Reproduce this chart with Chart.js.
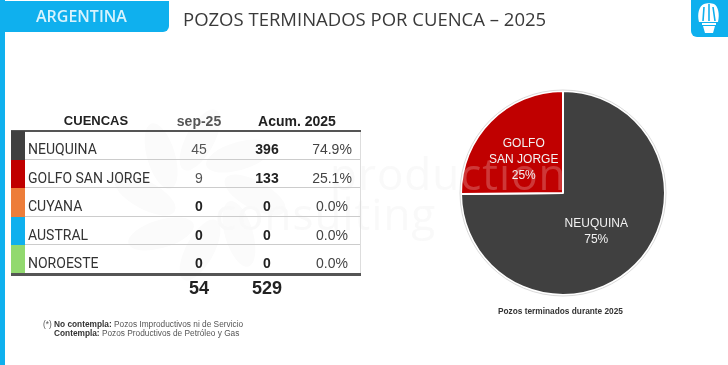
<!DOCTYPE html>
<html>
<head>
<meta charset="utf-8">
<script src="https://cdn.jsdelivr.net/npm/chart.js@4"></script>
<style>
  html, body { margin: 0; padding: 0; background: #fff; }
  #page { position: relative; width: 728px; height: 365px; overflow: hidden; font-family: "Liberation Sans", sans-serif; }
  .abs { position: absolute; white-space: nowrap; }
  #pieBox { left: 0; top: 0; width: 728px; height: 365px; }
  #sideBar { left: 0; top: 0; width: 5px; height: 365px; background: #0fb0ee; }
  #tag { left: 0; top: 1px; width: 169px; height: 31px; background: #0fb0ee; border-bottom-right-radius: 6px; }
  #tagText { left: 36px; top: 5px; font: 600 16px "Open Sans", sans-serif; color: #d8f3fd; }
  #title { left: 183px; top: 6px; font: 400 18.5px "Open Sans", sans-serif; color: #3a3a3a; }
  #logo { left: 691px; top: 0; width: 37px; height: 37px; background: #0fb0ee; border-bottom-left-radius: 6px; }
  .head { font-weight: 700; font-size: 14px; color: #222; transform: translateX(-50%); }
  .rowName { font: 400 14px Roboto, sans-serif; color: #333; }
  .num { font-size: 14px; color: #222; transform: translateX(-50%); }
  .total { font-size: 18px; font-weight: 700; color: #222; transform: translateX(-50%); }
  .note { font-size: 8.3px; color: #555; }
  .note b { color: #333; }
  #caption { left: 498px; top: 306px; font-size: 8.3px; font-weight: 700; color: #333; }
</style>
</head>
<body>
<div id="page">
  <div class="abs" id="pieBox"><canvas id="pie"></canvas></div>
  <div class="abs" id="sideBar"></div>
  <div class="abs" id="tag"></div>
  <div class="abs" id="tagText">ARGENTINA</div>
  <div class="abs" id="title">POZOS TERMINADOS POR CUENCA – 2025</div>
  <div class="abs" id="logo">
    <svg width="37" height="37" viewBox="0 0 37 37">
      <path d="M8 22 C6 14 8 6 13 4 C15 3 21 3 23 4 C27 6 29 14 27 22 Z" fill="#fff"/>
      <path d="M13 7 L12 21 M18 4 L18 21 M22 7 L24 21" stroke="#0fb0ee" stroke-width="1.6" fill="none"/>
      <rect x="11" y="23" width="14" height="2" fill="#fff"/>
      <path d="M12 26 L24 26 L22 33 L14 33 Z" fill="#fff"/>
    </svg>
  </div>
  <div id="table"></div>
  <div class="abs note" style="left:43px;top:319px;">(*) <b>No contempla:</b> Pozos Improductivos ni de Servicio</div>
  <div class="abs note" style="left:54px;top:328px;"><b>Contempla:</b> Pozos Productivos de Petróleo y Gas</div>
  <div class="abs" id="caption">Pozos terminados durante 2025</div>
</div>
<script>
const cuencas = ["NEUQUINA", "GOLFO SAN JORGE", "CUYANA", "AUSTRAL", "NOROESTE"];
const sep25 = [45, 9, 0, 0, 0];
const acum2025 = [396, 133, 0, 0, 0];
const shares = ["74.9%", "25.1%", "0.0%", "0.0%", "0.0%"];
const totals = [54, 529];
const colors = ["#404040", "#c00000", "#ed7d3a", "#0fb0ee", "#92d96f"];
const pieLabels = [["NEUQUINA", "75%"], ["GOLFO", "SAN JORGE", "25%"]];

function addDiv(parent, cls, left, top, text, style) {
  const el = document.createElement("div");
  el.className = "abs " + cls;
  el.style.left = left + "px";
  el.style.top = top + "px";
  if (style) Object.assign(el.style, style);
  el.textContent = text;
  parent.appendChild(el);
  return el;
}

function renderTable() {
  const t = document.getElementById("table");
  addDiv(t, "head", 96, 113, "CUENCAS", { fontSize: "13px" });
  addDiv(t, "head", 199, 113, "sep-25", { color: "#555" });
  addDiv(t, "head", 297, 113, "Acum. 2025");
  addDiv(t, "", 11, 130, "", { width: "350px", height: "2px", background: "#555" });
  const rowTop = 131, rowH = 28.6;
  cuencas.forEach((name, i) => {
    const y = rowTop + i * rowH;
    addDiv(t, "", 11, y, "", { width: "14px", height: rowH + "px", background: colors[i] });
    if (i > 0) addDiv(t, "", 25, y - 1, "", { width: "336px", height: "1px", background: "#ccc" });
    addDiv(t, "rowName", 28, y + 10, name);
    const zero = sep25[i] === 0;
    addDiv(t, "num", 199, y + 10, sep25[i], { color: zero ? "#222" : "#555", fontWeight: zero ? 700 : 400 });
    addDiv(t, "num", 267, y + 10, acum2025[i], { fontWeight: 700 });
    addDiv(t, "num", 332, y + 10, shares[i], { color: "#444" });
  });
  addDiv(t, "", 11, 273, "", { width: "350px", height: "3px", background: "#555" });
  addDiv(t, "", 360, 132, "", { width: "1px", height: "141px", background: "#ddd" });
  addDiv(t, "total", 199, 278, totals[0]);
  addDiv(t, "total", 267, 278, totals[1]);
}

function drawWatermark(ctx, color) {
  ctx.save();
  ctx.fillStyle = color;
  ctx.font = '44px "Open Sans"';
  ctx.letterSpacing = "1px";
  ctx.textAlign = "left";
  ctx.fillText("production", 330, 190);
  ctx.fillText("consulting", 215, 230);
  ctx.restore();
}

// faint company mark behind the table
const watermark = {
  id: "watermark",
  beforeDatasetsDraw(chart) {
    const ctx = chart.ctx;
    ctx.save();
    ctx.fillStyle = "#fbfbfb";
    ctx.translate(200, 195);
    for (let i = 0; i < 8; i++) {
      ctx.rotate(Math.PI / 4);
      ctx.beginPath();
      ctx.ellipse(55, 0, 34, 14, 0.5, 0, Math.PI * 2);
      ctx.fill();
    }
    ctx.restore();
    drawWatermark(ctx, "#f8f8f8");
  },
  afterDatasetsDraw(chart) {
    const ctx = chart.ctx;
    drawWatermark(ctx, "rgba(255,255,255,0.22)");
    // pale outer ring of the pie
    const arc = chart.getDatasetMeta(0).data[0];
    ctx.save();
    ctx.strokeStyle = "#d9d9d9";
    ctx.lineWidth = 1;
    ctx.beginPath();
    ctx.arc(arc.x, arc.y, arc.outerRadius + 1, 0, Math.PI * 2);
    ctx.stroke();
    ctx.restore();
    // pie text sits near the middle of each slice
    pieLabels.forEach((lines, i) => {
      const pos = chart.getDatasetMeta(0).data[i].tooltipPosition();
      ctx.save();
      ctx.fillStyle = "#f2f2f2";
      ctx.font = '12px "Liberation Sans"';
      ctx.textAlign = "center";
      ctx.textBaseline = "middle";
      lines.forEach((line, n) => {
        ctx.fillText(line, pos.x - 3, pos.y + 2.5 + (n - (lines.length - 1) / 2) * 16);
      });
      ctx.restore();
    });
  }
};

function renderPie() {
  new Chart(document.getElementById("pie"), {
    type: "pie",
    data: {
      labels: cuencas,
      datasets: [{
        data: acum2025,
        backgroundColor: colors,
        borderColor: "#fff",
        borderWidth: 2
      }]
    },
    options: {
      responsive: true,
      maintainAspectRatio: false,
      animation: false,
      layout: { padding: { left: 460, right: 62, top: 90, bottom: 69 } },
      plugins: { legend: { display: false }, tooltip: { enabled: false } }
    },
    plugins: [watermark]
  });
}

renderTable();
renderPie();
</script>
</body>
</html>
